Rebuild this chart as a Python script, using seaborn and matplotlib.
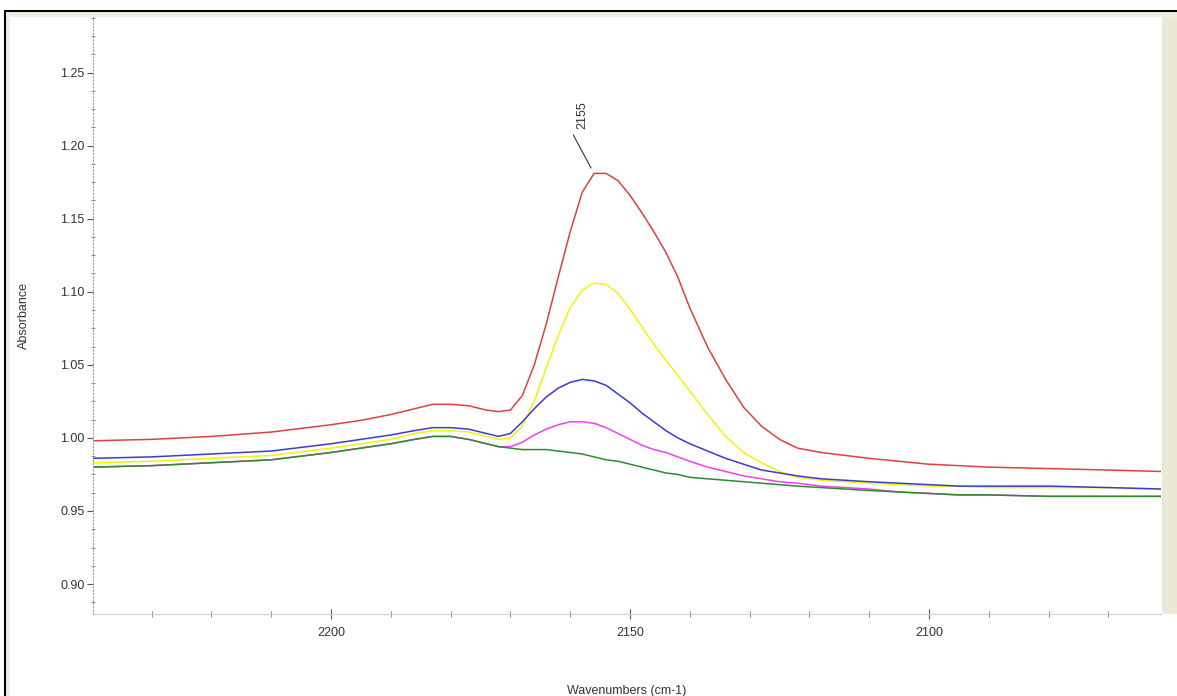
import numpy as np
import pandas as pd
import matplotlib
matplotlib.use("Agg")
import matplotlib.pyplot as plt
from matplotlib.ticker import MultipleLocator, FormatStrFormatter
from matplotlib.patches import Rectangle
from matplotlib.lines import Line2D
import seaborn as sns

# ---- data ----
wavenumbers = [2240, 2230, 2220, 2210, 2200, 2195, 2190, 2186, 2183, 2180, 2177, 2174,
               2172, 2170, 2168, 2166, 2164, 2162, 2160, 2158, 2156, 2154, 2152, 2150,
               2148, 2146, 2144, 2142, 2140, 2137, 2134, 2131, 2128, 2125, 2122, 2118,
               2114, 2110, 2105, 2100, 2095, 2090, 2080, 2070, 2061]

red = [0.998, 0.999, 1.001, 1.004, 1.009, 1.012, 1.016, 1.020, 1.023, 1.023, 1.022, 1.019,
       1.018, 1.019, 1.029, 1.050, 1.078, 1.110, 1.141, 1.168, 1.181, 1.181, 1.176, 1.166,
       1.154, 1.141, 1.127, 1.110, 1.089, 1.062, 1.040, 1.021, 1.008, 0.999, 0.993, 0.990,
       0.988, 0.986, 0.984, 0.982, 0.981, 0.980, 0.979, 0.978, 0.977]

yellow = [0.983, 0.984, 0.986, 0.988, 0.993, 0.996, 0.999, 1.003, 1.005, 1.005, 1.004, 1.001,
          0.999, 1.000, 1.008, 1.025, 1.048, 1.070, 1.089, 1.101, 1.106, 1.105, 1.099, 1.088,
          1.076, 1.064, 1.053, 1.043, 1.032, 1.016, 1.001, 0.990, 0.983, 0.977, 0.973, 0.971,
          0.970, 0.969, 0.968, 0.967, 0.967, 0.966, 0.966, 0.966, 0.965]

blue = [0.986, 0.987, 0.989, 0.991, 0.996, 0.999, 1.002, 1.005, 1.007, 1.007, 1.006, 1.003,
        1.001, 1.003, 1.011, 1.020, 1.028, 1.034, 1.038, 1.040, 1.039, 1.036, 1.030, 1.024,
        1.017, 1.011, 1.005, 1.000, 0.996, 0.991, 0.986, 0.982, 0.978, 0.976, 0.974, 0.972,
        0.971, 0.970, 0.969, 0.968, 0.967, 0.967, 0.967, 0.966, 0.965]

magenta = [0.980, 0.981, 0.983, 0.985, 0.990, 0.993, 0.996, 0.999, 1.001, 1.001, 0.999, 0.996,
           0.994, 0.994, 0.997, 1.002, 1.006, 1.009, 1.011, 1.011, 1.010, 1.007, 1.003, 0.999,
           0.995, 0.992, 0.990, 0.987, 0.984, 0.980, 0.977, 0.974, 0.972, 0.970, 0.969, 0.967,
           0.966, 0.965, 0.963, 0.962, 0.961, 0.961, 0.960, 0.960, 0.960]

green = [0.980, 0.981, 0.983, 0.985, 0.990, 0.993, 0.996, 0.999, 1.001, 1.001, 0.999, 0.996,
         0.994, 0.993, 0.992, 0.992, 0.992, 0.991, 0.990, 0.989, 0.987, 0.985, 0.984, 0.982,
         0.980, 0.978, 0.976, 0.975, 0.973, 0.972, 0.971, 0.970, 0.969, 0.968, 0.967, 0.966,
         0.965, 0.964, 0.963, 0.962, 0.961, 0.961, 0.960, 0.960, 0.960]

series_names = ["red", "yellow", "blue", "magenta", "green"]
series_colors = ["#e0403f", "#f2f20a", "#3a3ad8", "#f040f0", "#2e8b2e"]
y_ticks = [0.90, 0.95, 1.00, 1.05, 1.10, 1.15, 1.20, 1.25]
x_ticks = [2200, 2150, 2100]
peak_label = "2155"

df = pd.concat([
    pd.DataFrame({"Wavenumbers": wavenumbers, "Absorbance": vals, "series": name})
    for name, vals in zip(series_names, [red, yellow, blue, magenta, green])
], ignore_index=True)

# ---- figure ----
sns.set_style("white")
plt.rcParams["font.family"] = ["Liberation Sans", "DejaVu Sans"]

W, H = 1177, 696
fig = plt.figure(figsize=(W / 100, H / 100), dpi=100)
fig.patch.set_facecolor("white")

ax = fig.add_axes([93 / W, 1 - 614 / H, (1161 - 93) / W, (614 - 17) / H])

sns.lineplot(data=df, x="Wavenumbers", y="Absorbance", hue="series",
             hue_order=series_names, palette=dict(zip(series_names, series_colors)),
             linewidth=1.1, legend=False, ax=ax, sort=True)
for ln in ax.get_lines():
    ln.set_solid_joinstyle("round")

ax.set_xlim(2239.8, 2061.2)
ax.set_ylim(0.8795, 1.288)

ax.set_xticks(x_ticks)
ax.xaxis.set_minor_locator(MultipleLocator(10))
ax.set_yticks(y_ticks)
ax.yaxis.set_minor_locator(MultipleLocator(0.0125))
ax.yaxis.set_major_formatter(FormatStrFormatter("%.2f"))

for s in ["top", "right"]:
    ax.spines[s].set_visible(False)
ax.spines["left"].set_color("#9a9a9a")
ax.spines["left"].set_linestyle((0, (1, 2)))
ax.spines["left"].set_linewidth(0.8)
ax.spines["bottom"].set_color("#cfcfcf")
ax.spines["bottom"].set_linewidth(0.8)

ax.tick_params(axis="y", which="major", direction="out", length=4, width=0.8,
               color="#555555", labelsize=9, labelcolor="#333333", pad=2, left=True)
ax.tick_params(axis="y", which="minor", direction="inout", length=3, width=0.7,
               color="#888888", left=True)
ax.tick_params(axis="x", which="major", direction="inout", length=7, width=0.8,
               color="#555555", labelsize=9, labelcolor="#333333", pad=6, bottom=True)
ax.tick_params(axis="x", which="minor", direction="inout", length=4, width=0.7,
               color="#888888", bottom=True)

ax.set_xlabel("Wavenumbers (cm-1)", fontsize=9, color="#333333", labelpad=33)
ax.set_ylabel("Absorbance", fontsize=9, color="#333333", labelpad=22)

# peak annotation
pk = int(np.argmax(red))
ax.annotate("", xy=(wavenumbers[pk] + 0.3, red[pk] + 0.002), xytext=(2159.7, 1.209),
            arrowprops=dict(arrowstyle="-", color="#333333", lw=0.8))
ax.text(2158.0, 1.2115, peak_label, rotation=90, ha="center", va="bottom",
        fontsize=9, color="#333333")

# window-like frame decorations
fig.patches.append(Rectangle((1162 / W, 1 - 614 / H), 15 / W, (614 - 17) / H,
                             transform=fig.transFigure, facecolor="#ebe8d8",
                             edgecolor="none", zorder=0))
fig.patches.append(Rectangle((6 / W, 1 - 17 / H), (W - 6) / W, 5 / H,
                             transform=fig.transFigure, facecolor="#efeee4",
                             edgecolor="none", zorder=0))
fig.patches.append(Rectangle((6 / W, 0), 4 / W, (H - 12) / H,
                             transform=fig.transFigure, facecolor="#efeee4",
                             edgecolor="none", zorder=0))
fig.lines.append(Line2D([5 / W, 5 / W], [0, 1 - 11 / H], transform=fig.transFigure,
                        color="black", lw=1.5))
fig.lines.append(Line2D([5 / W, 1], [1 - 11 / H, 1 - 11 / H], transform=fig.transFigure,
                        color="black", lw=1.5))

fig.savefig("out.png", dpi=100, facecolor="white")
